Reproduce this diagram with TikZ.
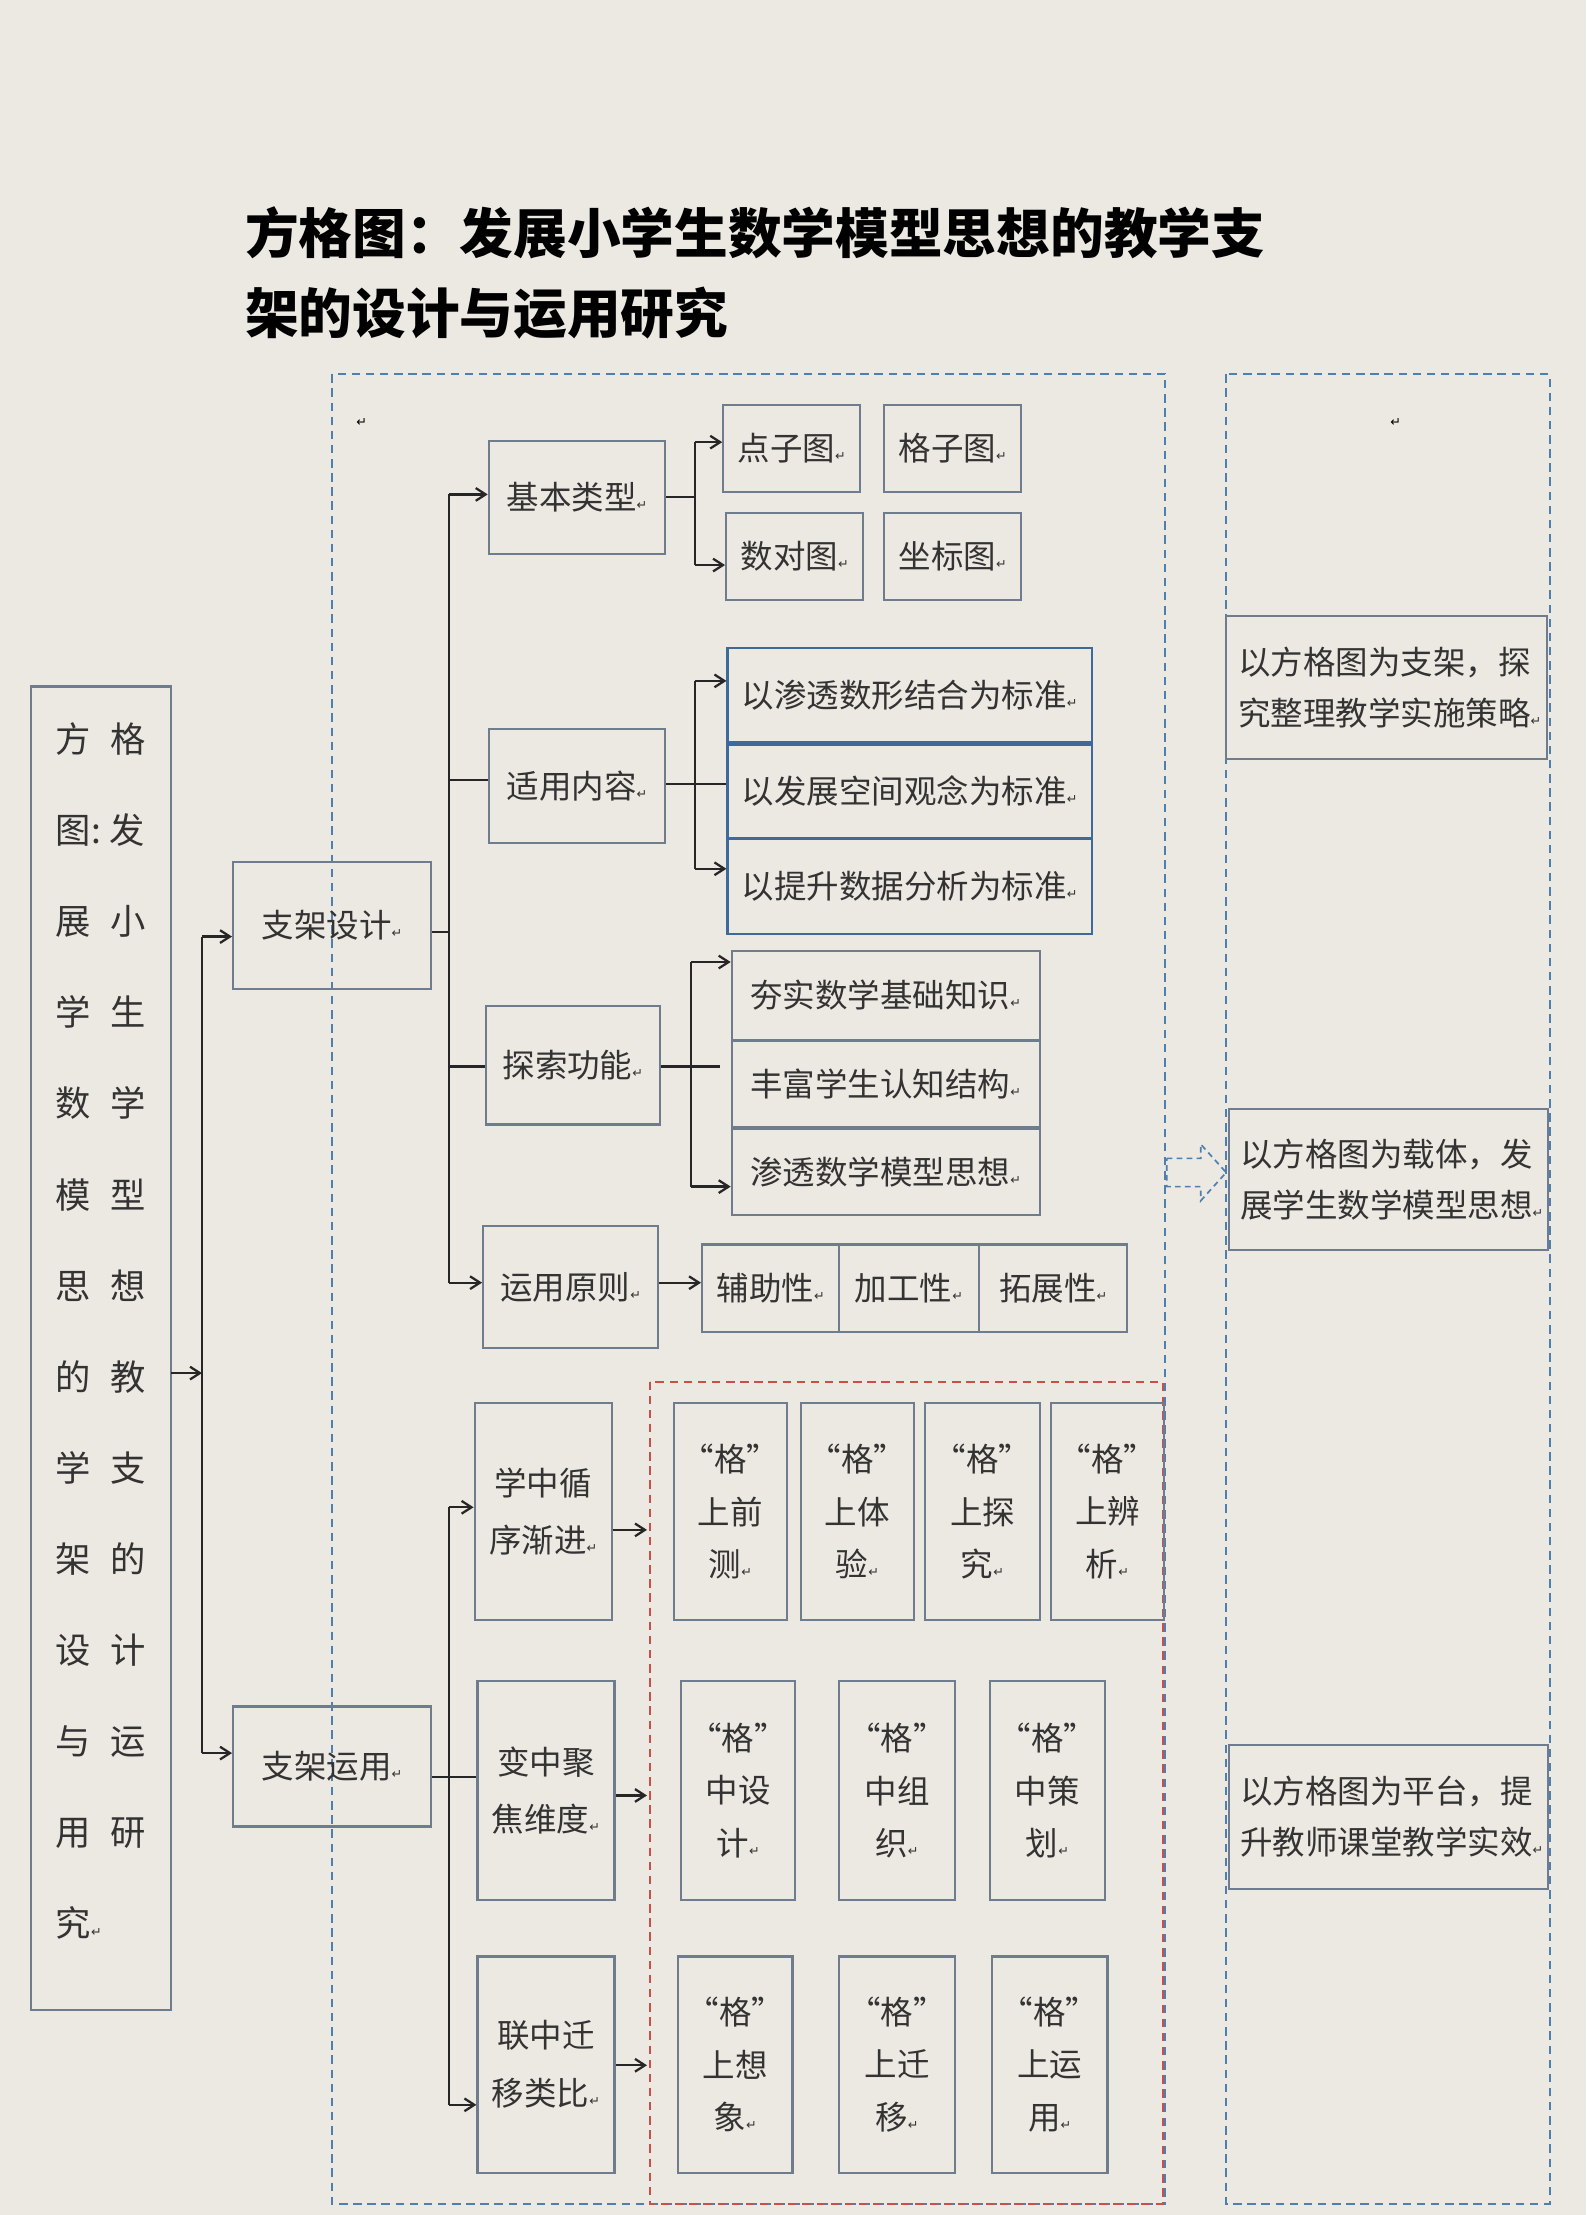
\documentclass[tikz,border=0pt]{standalone}
\usepackage{fontspec}
\setmainfont{Noto Sans CJK SC}
\newfontfamily\dejavu{DejaVu Sans}
\usetikzlibrary{arrows.meta}
\definecolor{bg}{HTML}{ECE8E2}
\definecolor{bc}{HTML}{6E7C8E}
\definecolor{bb}{HTML}{3D6A9A}
\definecolor{dsh}{HTML}{4F7FAF}
\definecolor{rd}{HTML}{C8504A}
\definecolor{tx}{HTML}{333333}
\newcommand\rt{{\dejavu\fontsize{9}{9}\selectfont ↵}}
\begin{document}
\begin{tikzpicture}[x=1pt,y=-1pt,
  box/.style={draw=bc,line width=1.5pt,inner sep=0pt,text=tx,font=\fontsize{23}{27}\selectfont,align=center},
  bbox/.style={box,draw=bb},
  ln/.style={line width=1.6pt,draw=black!85},
  arr/.style={ln,-{Straight Barb[length=7pt,width=9pt]}},
  dbox/.style={draw=dsh,line width=1.5pt,dash pattern=on 6pt off 4pt}]
\newcommand\bx[7][box]{\node[#1,minimum width={(#5-#3)*1pt},minimum height={(#6-#4)*1pt}] (#2) at ({(#3+#5)/2},{(#4+#6)/2}) {#7};}
\fill[bg] (0,0) rectangle (1123,1568);
\useasboundingbox (0,0) rectangle (1123,1568);
\node[anchor=west,font=\fontsize{38}{44}\selectfont\bfseries,text=black] (t1) at (170,165) {方格图：发展小学生数学模型思想的教学支};
\node[anchor=west,font=\fontsize{38}{44}\selectfont\bfseries,text=black] (t2) at (170,222) {架的设计与运用研究};
% dashed regions
\draw[dbox] (235,265) rectangle (825,1560);
\draw[dbox] (868,265) rectangle (1097,1560);
\draw[dbox,draw=rd] (460,978) rectangle (823,1560);
\node (p1) at (256,299) {\rt};
\node (p2) at (988,299) {\rt};
% left box
\bx{L}{22}{486}{121}{1423}{}
\node[text=tx,font=\fontsize{25}{64.5}\selectfont,align=left,anchor=north west] (Lt) at (36,508) {方\hspace{14pt}格\\图:\hspace{6pt}发\\展\hspace{14pt}小\\学\hspace{14pt}生\\数\hspace{14pt}学\\模\hspace{14pt}型\\思\hspace{14pt}想\\的\hspace{14pt}教\\学\hspace{14pt}支\\架\hspace{14pt}的\\设\hspace{14pt}计\\与\hspace{14pt}运\\用\hspace{14pt}研\\究\rt};
\bx{A}{165}{610}{305}{700}{支架设计\rt}
\bx{B}{165}{1208}{305}{1293}{支架运用\rt}
\coordinate (c0) at (143,972);
\draw[arr] (121,972) -- (c0);
\draw[ln] (c0) -- (143,663);
\draw[ln] (c0) -- (143,1241);
\draw[arr] (143,663) -- (A.west|-0,663);
\draw[arr] (143,1241) -- (B.west|-0,1241);
% design branch
\bx{A1}{346}{312}{471}{392}{基本类型\rt}
\bx{A2}{346}{516}{471}{597}{适用内容\rt}
\bx{A3}{344}{712}{467}{796}{探索功能\rt}
\bx{A4}{342}{868}{466}{954}{运用原则\rt}
\draw[ln] (A.east|-0,660) -- (318,660);
\draw[ln] (318,350) -- (318,908);
\draw[arr] (318,350) -- (A1.west|-0,350);
\draw[ln] (318,552) -- (A2.west|-0,552);
\draw[ln] (318,755) -- (A3.west|-0,755);
\draw[arr] (318,908) -- (A4.west|-0,908);
\bx{a11}{512}{287}{609}{348}{点子图\rt}
\bx{a12}{626}{287}{723}{348}{格子图\rt}
\bx{a13}{514}{363}{611}{425}{数对图\rt}
\bx{a14}{626}{363}{723}{425}{坐标图\rt}
\draw[ln] (A1.east|-0,352) -- (492,352);
\draw[ln] (492,313) -- (492,400);
\draw[arr] (492,313) -- (a11.west|-0,313);
\draw[arr] (492,400) -- (a13.west|-0,400);
\bx[bbox]{a21}{515}{459}{773}{525}{以渗透数形结合为标准\rt}
\bx[bbox]{a22}{515}{527}{773}{593}{以发展空间观念为标准\rt}
\bx[bbox]{a23}{515}{594}{773}{661}{以提升数据分析为标准\rt}
\draw[ln] (A2.east|-0,555) -- (514,555);
\draw[ln] (492,482) -- (492,615);
\draw[arr] (492,482) -- (a21.west|-0,482);
\draw[arr] (492,615) -- (a23.west|-0,615);
\bx{a31}{518}{673}{736}{736}{夯实数学基础知识\rt}
\bx{a32}{518}{737}{736}{798}{丰富学生认知结构\rt}
\bx{a33}{518}{799}{736}{860}{渗透数学模型思想\rt}
\draw[ln] (A3.east|-0,755) -- (510,755);
\draw[ln] (489,681) -- (489,840);
\draw[arr] (489,681) -- (a31.west|-0,681);
\draw[arr] (489,840) -- (a33.west|-0,840);
\bx{a41}{497}{881}{594}{943}{辅助性\rt}
\bx{a42}{594}{881}{693}{943}{加工性\rt}
\bx{a43}{693}{881}{798}{943}{拓展性\rt}
\draw[arr] (A4.east|-0,908) -- (a41.west|-0,908);
% application branch
\bx{B1}{336}{993}{433}{1147}{学中循\\[14pt]序渐进\rt}
\bx{B2}{338}{1190}{435}{1345}{变中聚\\[14pt]焦维度\rt}
\bx{B3}{338}{1385}{435}{1538}{联中迁\\[14pt]移类比\rt}
\draw[ln] (B.east|-0,1258) -- (318,1258);
\draw[ln] (318,1067) -- (318,1490);
\draw[arr] (318,1067) -- (B1.west|-0,1067);
\draw[ln] (318,1258) -- (B2.west|-0,1258);
\draw[arr] (318,1490) -- (B3.west|-0,1490);
\coordinate (r1) at (458,1083);
\coordinate (r2) at (458,1271);
\coordinate (r3) at (458,1462);
\draw[arr] (B1.east|-r1) -- (r1);
\draw[arr] (B2.east|-r2) -- (r2);
\draw[arr] (B3.east|-r3) -- (r3);
\newcommand\gt[2]{“格”\\[10pt]#1\\[10pt]#2\rt}
\bx{g11}{477}{993}{557}{1147}{\gt{上前}{测}}
\bx{g12}{567}{993}{647}{1147}{\gt{上体}{验}}
\bx{g13}{655}{993}{736}{1147}{\gt{上探}{究}}
\bx{g14}{744}{993}{824}{1147}{\gt{上辨}{析}}
\bx{g21}{482}{1190}{563}{1345}{\gt{中设}{计}}
\bx{g22}{594}{1190}{676}{1345}{\gt{中组}{织}}
\bx{g23}{701}{1190}{782}{1345}{\gt{中策}{划}}
\bx{g31}{480}{1385}{561}{1538}{\gt{上想}{象}}
\bx{g32}{594}{1385}{676}{1538}{\gt{上迁}{移}}
\bx{g33}{702}{1385}{784}{1538}{\gt{上运}{用}}
% right boxes
\bx{R1}{868}{436}{1095}{537}{\parbox{210pt}{\raggedright\fontsize{23}{36}\selectfont 以方格图为支架，探\\究整理教学实施策略\rt}}
\bx{R2}{870}{785}{1096}{885}{\parbox{210pt}{\raggedright\fontsize{23}{36}\selectfont 以方格图为载体，发\\展学生数学模型思想\rt}}
\bx{R3}{870}{1235}{1096}{1337}{\parbox{210pt}{\raggedright\fontsize{23}{36}\selectfont 以方格图为平台，提\\升教师课堂教学实效\rt}}
% hollow block arrow
\draw[dbox,line width=1.2pt,dash pattern=on 4pt off 3pt] (826,820) -- (850,820) -- (850,810) -- (868,830) -- (850,850) -- (850,840) -- (826,840) -- cycle;
\end{tikzpicture}
\end{document}
